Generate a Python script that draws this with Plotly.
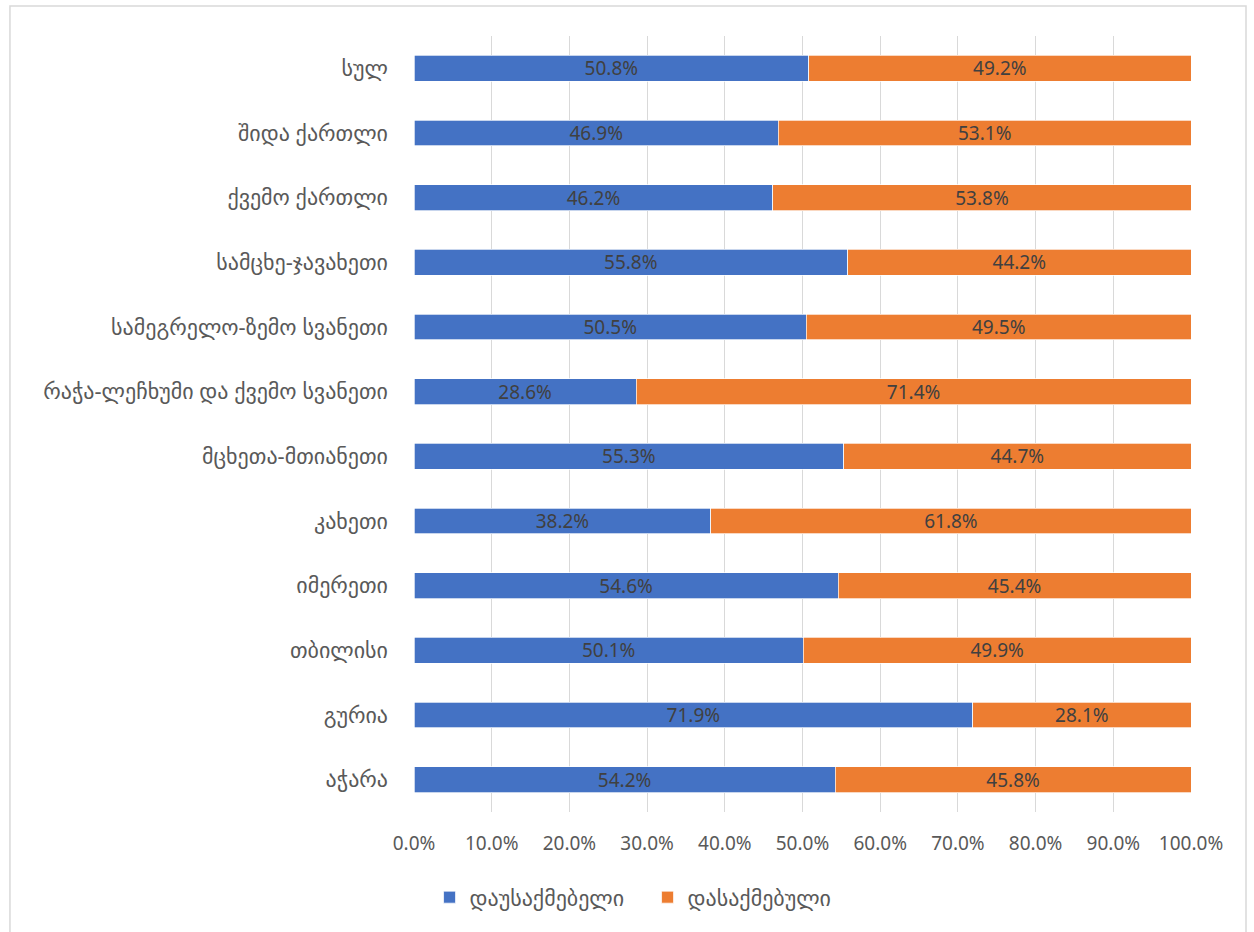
import plotly.graph_objects as go

categories = [
    "აჭარა", "გურია", "თბილისი", "იმერეთი", "კახეთი", "მცხეთა-მთიანეთი",
    "რაჭა-ლეჩხუმი და ქვემო სვანეთი", "სამეგრელო-ზემო სვანეთი",
    "სამცხე-ჯავახეთი", "ქვემო ქართლი", "შიდა ქართლი", "სულ",
]
unemployed = [54.2, 71.9, 50.1, 54.6, 38.2, 55.3, 28.6, 50.5, 55.8, 46.2, 46.9, 50.8]
employed = [45.8, 28.1, 49.9, 45.4, 61.8, 44.7, 71.4, 49.5, 44.2, 53.8, 53.1, 49.2]
series_names = ["დაუსაქმებელი", "დასაქმებული"]
colors = ["#4472C4", "#ED7D31"]

FONT = "Segoe UI, Noto Sans, DejaVu Sans, sans-serif"

fig = go.Figure()
for name, vals, col in zip(series_names, [unemployed, employed], colors):
    fig.add_trace(go.Bar(
        y=categories, x=[v / 100 for v in vals], name=name, orientation="h",
        marker=dict(color=col, line=dict(color="white", width=0.7)),
        texttemplate="%{x:.1%}", textposition="inside", insidetextanchor="middle",
        constraintext="none",
        textfont=dict(color="#404040", size=19, family=FONT),
        width=0.4,
    ))

fig.update_layout(
    barmode="stack",
    width=1254, height=932,
    paper_bgcolor="white", plot_bgcolor="white",
    margin=dict(l=414, r=63, t=36, b=120),
    font=dict(family=FONT, size=19, color="#595959"),
    xaxis=dict(range=[0, 1], dtick=0.1, tickformat=".1%", showgrid=True,
               gridcolor="#D9D9D9", gridwidth=1, zeroline=False, showline=False,
               ticks="", ticklabelstandoff=18, tickfont=dict(size=19)),
    yaxis=dict(showgrid=False, zeroline=False, showline=False, ticks="",
               ticklabelstandoff=25, categoryorder="array", categoryarray=categories,
               tickfont=dict(size=22)),
    legend=dict(orientation="h", x=0.02, xanchor="left", y=-0.11, yanchor="middle",
                font=dict(size=22, color="#595959"), traceorder="normal",
                entrywidth=173, entrywidthmode="pixels"),
    showlegend=True,
    shapes=[dict(type="rect", xref="paper", yref="paper", x0=-0.52, x1=1.0708,
                 y0=-0.16, y1=1.0387, line=dict(color="#D9D9D9", width=1.5),
                 fillcolor="rgba(0,0,0,0)", layer="below")],
)

fig.write_html("out.html", config={"displayModeBar": False},
               post_script="document.body.style.margin='0';")
